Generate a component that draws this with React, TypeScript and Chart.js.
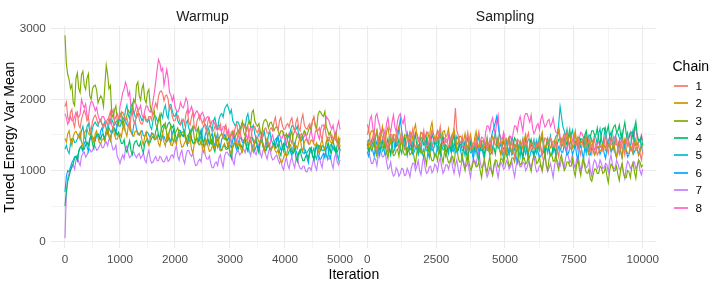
import React, { useEffect, useRef } from "react";
import { Chart, registerables } from "chart.js";

Chart.register(...registerables);

// ---------- data ----------
const chainLabels = ["1", "2", "3", "4", "5", "6", "7", "8"];
const chainColors = ["#F8766D", "#CD9600", "#7CAE00", "#00BE67", "#00BFC4", "#00A9FF", "#C77CFF", "#FF61CC"];

const warmupStep = 25; // iterations between stored points (0..5000)
const samplingStep = 50; // iterations between stored points (0..10000)

const yTickLabels = [0, 1000, 2000, 3000];
const yGridValues = [0, 500, 1000, 1500, 2000, 2500, 3000];
const warmupTickLabels = [0, 1000, 2000, 3000, 4000, 5000];
const warmupGridValues = [0, 500, 1000, 1500, 2000, 2500, 3000, 3500, 4000, 4500, 5000];
const samplingTickLabels = [0, 2500, 5000, 7500, 10000];
const samplingGridValues = [0, 1250, 2500, 3750, 5000, 6250, 7500, 8750, 10000];

// Warmup phase
const warmup1 = [
  1900, 1960, 1750, 1700, 1820, 1860, 1680, 1610, 1760, 1815, 1640, 1600, 1720, 1790, 1850, 1795, 1700, 1745, 1620, 1560,
  1690, 1750, 1780, 1730, 1650, 1690, 1720, 1650, 1600, 1655, 1680, 1640, 1760, 1830, 1640, 1585, 1710, 1755, 1800, 1740,
  1740, 1800, 1820, 1770, 1700, 1740, 1650, 1580, 1760, 1815, 1690, 1650, 1800, 1870, 1720, 1665, 1650, 1695, 1780, 1720,
  1700, 1760, 1760, 1710, 1850, 1890, 1950, 1880, 2050, 2105, 2120, 2080, 1980, 2050, 2060, 2005, 1850, 1895, 1760, 1700,
  1700, 1760, 1780, 1730, 1650, 1690, 1720, 1650, 1800, 1855, 1680, 1640, 1750, 1820, 1620, 1565, 1700, 1745, 1780, 1720,
  1660, 1720, 1600, 1550, 1700, 1740, 1620, 1550, 1560, 1615, 1650, 1610, 1580, 1650, 1520, 1465, 1600, 1645, 1540, 1480,
  1480, 1540, 1560, 1510, 1620, 1660, 1500, 1430, 1580, 1635, 1640, 1600, 1550, 1620, 1480, 1425, 1560, 1605, 1620, 1560,
  1530, 1590, 1460, 1410, 1540, 1580, 1600, 1530, 1520, 1575, 1600, 1560, 1680, 1750, 1620, 1565, 1700, 1745, 1640, 1580,
  1580, 1640, 1660, 1610, 1700, 1740, 1620, 1550, 1680, 1735, 1600, 1560, 1720, 1790, 1650, 1595, 1580, 1625, 1660, 1600,
  1700, 1760, 1620, 1570, 1560, 1600, 1500, 1430, 1580, 1635, 1480, 1440, 1420, 1490, 1500, 1445, 1450, 1495, 1380, 1320,
  1420,
];
const warmup2 = [
  1450, 1400, 1520, 1560, 1420, 1350, 1480, 1535, 1550, 1510, 1470, 1540, 1400, 1345, 1520, 1565, 1580, 1520, 1500, 1560,
  1440, 1390, 1520, 1560, 1460, 1390, 1380, 1435, 1450, 1410, 1530, 1600, 1480, 1425, 1560, 1605, 1500, 1440, 1440, 1500,
  1520, 1470, 1600, 1640, 1550, 1480, 1620, 1675, 1540, 1500, 1480, 1550, 1560, 1505, 1500, 1545, 1420, 1360, 1480, 1540,
  1400, 1350, 1460, 1500, 1520, 1450, 1440, 1495, 1380, 1340, 1460, 1530, 1400, 1345, 1480, 1525, 1420, 1360, 1350, 1410,
  1420, 1370, 1480, 1520, 1400, 1330, 1340, 1395, 1420, 1380, 1380, 1450, 1300, 1245, 1370, 1415, 1440, 1380, 1360, 1420,
  1300, 1250, 1380, 1420, 1340, 1270, 1280, 1335, 1360, 1320, 1420, 1490, 1340, 1285, 1300, 1345, 1380, 1320, 1330, 1390,
  1280, 1230, 1350, 1390, 1420, 1350, 1360, 1415, 1300, 1260, 1380, 1450, 1440, 1385, 1380, 1425, 1320, 1260, 1400, 1460,
  1460, 1410, 1380, 1420, 1340, 1270, 1400, 1455, 1350, 1310, 1280, 1350, 1330, 1275, 1250, 1295, 1180, 1120, 1120, 1180,
  1250, 1200, 1300, 1340, 1360, 1290, 1290, 1345, 1350, 1310, 1400, 1470, 1330, 1275, 1390, 1435, 1440, 1380, 1370, 1430,
  1420, 1370, 1350, 1390, 1300, 1230, 1380, 1435, 1340, 1300, 1400, 1470, 1460, 1405, 1380, 1425, 1480, 1420, 1400, 1460,
  1330,
];
const warmup3 = [
  2900, 2500, 2350, 2280, 2150, 2205, 1950, 1910, 2300, 2370, 2150, 2095, 2350, 2395, 2200, 2140, 2300, 2360, 2050, 2000,
  2150, 2190, 2200, 2130, 1950, 2005, 2050, 2010, 1900, 2200, 2480, 2350, 2150, 2195, 1800, 1740, 1850, 1910, 1700, 1650,
  1780, 1820, 1650, 1580, 1720, 1775, 1850, 1810, 1800, 1870, 2000, 1945, 2200, 2245, 2050, 1990, 2150, 2210, 2000, 1950,
  2100, 2140, 1900, 1830, 1780, 1835, 1650, 1610, 1720, 1790, 1580, 1525, 1620, 1665, 1500, 1440, 1560, 1620, 1450, 1400,
  1520, 1560, 1600, 1530, 1480, 1535, 1550, 1510, 1420, 1490, 1500, 1445, 1580, 1625, 1460, 1400, 1540, 1600, 1420, 1370,
  1360, 1400, 1450, 1380, 1500, 1555, 1400, 1360, 1460, 1530, 1380, 1325, 1450, 1495, 1520, 1460, 1440, 1500, 1380, 1330,
  1460, 1500, 1540, 1470, 1480, 1535, 1560, 1520, 1620, 1690, 1540, 1485, 1600, 1645, 1700, 1640, 1820, 1850, 1700, 1650,
  1620, 1660, 1560, 1490, 1650, 1705, 1720, 1680, 1600, 1670, 1680, 1625, 1560, 1605, 1620, 1560, 1500, 1560, 1560, 1510,
  1480, 1520, 1420, 1350, 1500, 1555, 1380, 1340, 1440, 1510, 1520, 1465, 1460, 1505, 1560, 1500, 1500, 1560, 1620, 1570,
  1700, 1740, 1650, 1580, 1780, 1835, 1820, 1780, 1760, 1830, 1620, 1565, 1500, 1545, 1440, 1380, 1480, 1540, 1400, 1350,
  1460,
];
const warmup4 = [
  500, 700, 850, 920, 1000, 1060, 1100, 1170, 1200, 1145, 1280, 1325, 1350, 1290, 1300, 1360, 1400, 1350, 1450, 1490,
  1380, 1310, 1460, 1515, 1520, 1480, 1440, 1510, 1500, 1445, 1560, 1605, 1480, 1420, 1540, 1600, 1600, 1550, 1500, 1540,
  1450, 1380, 1380, 1435, 1300, 1260, 1350, 1420, 1280, 1225, 1360, 1405, 1420, 1360, 1340, 1400, 1300, 1250, 1380, 1420,
  1450, 1380, 1400, 1455, 1480, 1440, 1550, 1620, 1500, 1445, 1580, 1625, 1650, 1590, 1600, 1660, 1680, 1630, 1600, 1640,
  1520, 1450, 1460, 1515, 1540, 1500, 1480, 1550, 1420, 1365, 1500, 1545, 1450, 1390, 1380, 1440, 1440, 1390, 1500, 1540,
  1420, 1350, 1360, 1415, 1440, 1400, 1380, 1450, 1320, 1265, 1400, 1445, 1340, 1280, 1280, 1340, 1350, 1300, 1300, 1340,
  1240, 1170, 1320, 1375, 1380, 1340, 1300, 1370, 1360, 1305, 1420, 1465, 1340, 1280, 1400, 1460, 1460, 1410, 1380, 1420,
  1320, 1250, 1400, 1455, 1340, 1300, 1280, 1350, 1360, 1305, 1300, 1345, 1380, 1320, 1320, 1380, 1260, 1210, 1340, 1380,
  1280, 1210, 1220, 1275, 1300, 1260, 1240, 1310, 1180, 1125, 1250, 1295, 1200, 1140, 1140, 1200, 1220, 1170, 1280, 1320,
  1220, 1150, 1300, 1355, 1360, 1320, 1280, 1350, 1340, 1285, 1400, 1445, 1320, 1260, 1380, 1440, 1300, 1250, 1360, 1400,
  1280,
];
const warmup5 = [
  1300, 1355, 1280, 1240, 1380, 1450, 1450, 1395, 1400, 1445, 1500, 1440, 1560, 1620, 1480, 1430, 1620, 1660, 1550, 1480,
  1600, 1655, 1680, 1640, 1620, 1690, 1700, 1645, 1640, 1685, 1580, 1520, 1660, 1720, 1720, 1670, 1640, 1680, 1700, 1630,
  1620, 1675, 1750, 1710, 1850, 1920, 1780, 1725, 1900, 1945, 1820, 1760, 1740, 1800, 1800, 1750, 1700, 1740, 1760, 1690,
  1680, 1735, 1620, 1580, 1700, 1770, 1760, 1705, 1680, 1725, 1800, 1740, 1860, 1920, 1780, 1730, 1920, 1930, 1840, 1770,
  1760, 1815, 1700, 1660, 1640, 1710, 1580, 1525, 1660, 1705, 1600, 1540, 1540, 1600, 1620, 1570, 1560, 1600, 1500, 1430,
  1580, 1635, 1650, 1610, 1560, 1630, 1620, 1565, 1700, 1745, 1640, 1580, 1720, 1780, 1800, 1750, 1860, 1900, 1930, 1870,
  1800, 1855, 1700, 1660, 1620, 1690, 1680, 1625, 1600, 1645, 1660, 1600, 1740, 1800, 1680, 1630, 1600, 1640, 1520, 1450,
  1460, 1515, 1540, 1500, 1480, 1550, 1420, 1365, 1500, 1545, 1440, 1380, 1380, 1440, 1460, 1410, 1400, 1440, 1340, 1270,
  1420, 1475, 1500, 1460, 1560, 1630, 1620, 1565, 1580, 1625, 1500, 1440, 1420, 1480, 1300, 1250, 1250, 1290, 1320, 1250,
  1260, 1315, 1200, 1160, 1280, 1350, 1340, 1285, 1280, 1325, 1220, 1160, 1300, 1360, 1360, 1310, 1280, 1320, 1220, 1150,
  1300,
];
const warmup6 = [
  700, 920, 1000, 980, 1050, 1110, 1150, 1195, 1200, 1140, 1260, 1320, 1320, 1270, 1380, 1420, 1340, 1270, 1420, 1475,
  1480, 1440, 1420, 1490, 1500, 1445, 1560, 1605, 1480, 1420, 1540, 1600, 1600, 1550, 1520, 1560, 1580, 1510, 1660, 1715,
  1720, 1680, 1640, 1710, 1700, 1645, 1620, 1665, 1560, 1500, 1640, 1700, 1580, 1530, 1500, 1540, 1560, 1490, 1480, 1535,
  1540, 1500, 1460, 1530, 1520, 1465, 1440, 1485, 1500, 1440, 1420, 1480, 1480, 1430, 1400, 1440, 1460, 1390, 1520, 1575,
  1440, 1400, 1500, 1570, 1560, 1505, 1480, 1525, 1420, 1360, 1500, 1560, 1440, 1390, 1380, 1420, 1460, 1390, 1520, 1575,
  1440, 1400, 1500, 1570, 1420, 1365, 1480, 1525, 1400, 1340, 1460, 1520, 1380, 1330, 1440, 1480, 1500, 1430, 1420, 1475,
  1360, 1320, 1420, 1490, 1340, 1285, 1400, 1445, 1460, 1400, 1380, 1440, 1320, 1270, 1400, 1440, 1340, 1270, 1280, 1335,
  1350, 1310, 1420, 1490, 1340, 1285, 1280, 1325, 1360, 1300, 1300, 1360, 1380, 1330, 1440, 1480, 1360, 1290, 1300, 1355,
  1380, 1340, 1320, 1390, 1260, 1205, 1340, 1385, 1280, 1220, 1220, 1280, 1300, 1250, 1240, 1280, 1180, 1110, 1260, 1315,
  1200, 1160, 1280, 1350, 1220, 1165, 1160, 1205, 1240, 1180, 1300, 1360, 1220, 1170, 1280, 1320, 1340, 1270, 1260, 1315,
  1320,
];
const warmup7 = [
  50, 700, 900, 960, 1000, 1040, 1080, 1020, 1150, 1210, 1120, 1070, 1200, 1240, 1260, 1190, 1220, 1275, 1300, 1260,
  1280, 1350, 1340, 1285, 1300, 1345, 1380, 1320, 1320, 1380, 1400, 1350, 1440, 1480, 1360, 1290, 1300, 1355, 1200, 1160,
  1100, 1170, 1220, 1165, 1300, 1345, 1240, 1180, 1200, 1260, 1260, 1210, 1180, 1220, 1240, 1170, 1200, 1255, 1150, 1110,
  1220, 1290, 1160, 1105, 1120, 1165, 1200, 1140, 1140, 1200, 1180, 1130, 1120, 1160, 1200, 1130, 1150, 1205, 1220, 1180,
  1280, 1350, 1200, 1145, 1240, 1285, 1160, 1100, 1220, 1280, 1280, 1230, 1200, 1240, 1140, 1070, 1080, 1135, 1160, 1120,
  1300, 1370, 1220, 1165, 1160, 1205, 1100, 1040, 1040, 1100, 1120, 1070, 1180, 1220, 1120, 1050, 1200, 1255, 1260, 1220,
  1200, 1270, 1140, 1085, 1220, 1265, 1280, 1220, 1240, 1300, 1300, 1250, 1340, 1380, 1280, 1210, 1320, 1375, 1260, 1220,
  1300, 1370, 1240, 1185, 1280, 1325, 1220, 1160, 1260, 1320, 1200, 1150, 1160, 1200, 1220, 1150, 1100, 1155, 1050, 1010,
  1120, 1190, 1080, 1025, 1140, 1185, 1100, 1040, 1160, 1220, 1080, 1030, 1020, 1060, 1060, 990, 980, 1035, 1040, 1000,
  1100, 1170, 1060, 1005, 1140, 1185, 1100, 1040, 1180, 1240, 1220, 1170, 1160, 1200, 1100, 1030, 1180, 1235, 1120, 1080,
  1150,
];
const warmup8 = [
  1800, 1745, 1650, 1695, 1760, 1700, 1700, 1760, 1820, 1770, 1750, 1790, 2000, 1930, 1880, 1935, 1780, 1740, 1900, 1970,
  1960, 1905, 1840, 1885, 1780, 1720, 1700, 1760, 1760, 1710, 1680, 1720, 1740, 1670, 1800, 1855, 1700, 1660, 1620, 1690,
  1900, 1990, 2100, 2145, 2240, 2180, 2050, 2110, 1880, 1830, 1800, 1840, 1920, 1850, 1860, 1915, 1780, 1740, 1840, 1910,
  1900, 1845, 1820, 1865, 1980, 2100, 2250, 2420, 2560, 2510, 2400, 2440, 2200, 2310, 2420, 2300, 2100, 2060, 1980, 2050,
  1900, 1845, 1820, 1865, 1960, 1900, 1880, 1940, 2020, 1970, 1800, 1840, 1900, 1830, 1760, 1815, 1840, 1800, 1720, 1790,
  1820, 1765, 1700, 1745, 1760, 1700, 1640, 1700, 1700, 1650, 1580, 1620, 1640, 1570, 1560, 1615, 1620, 1580, 1500, 1570,
  1440, 1385, 1520, 1565, 1460, 1400, 1540, 1600, 1480, 1430, 1420, 1460, 1500, 1430, 1560, 1615, 1480, 1440, 1400, 1470,
  1360, 1305, 1420, 1465, 1380, 1320, 1340, 1400, 1400, 1350, 1460, 1500, 1400, 1330, 1440, 1495, 1500, 1460, 1460, 1530,
  1420, 1365, 1480, 1525, 1440, 1380, 1500, 1560, 1540, 1490, 1460, 1500, 1520, 1450, 1480, 1535, 1420, 1380, 1500, 1570,
  1460, 1405, 1540, 1585, 1500, 1440, 1580, 1640, 1640, 1590, 1760, 1730, 1700, 1630, 1580, 1635, 1520, 1480, 1620, 1690,
  1580,
];

// Sampling phase
const sampling1 = [
  1500, 1590, 1420, 1350, 1480, 1540, 1380, 1280, 1450, 1530, 1520, 1460, 1400, 1500, 1360, 1280, 1440, 1510, 1500, 1410,
  1420, 1510, 1380, 1310, 1460, 1520, 1400, 1300, 1340, 1420, 1420, 1360, 1480, 1580, 1400, 1320, 1350, 1420, 1430, 1340,
  1480, 1570, 1400, 1330, 1360, 1420, 1440, 1340, 1380, 1460, 1460, 1400, 1520, 1620, 1440, 1360, 1380, 1450, 1420, 1330,
  1360, 1450, 1450, 1600, 1880, 1560, 1500, 1400, 1400, 1480, 1360, 1300, 1440, 1540, 1380, 1300, 1320, 1390, 1400, 1310,
  1460, 1550, 1380, 1310, 1320, 1380, 1400, 1300, 1360, 1440, 1300, 1240, 1380, 1480, 1440, 1360, 1360, 1430, 1300, 1210,
  1360, 1450, 1420, 1350, 1340, 1400, 1280, 1180, 1360, 1440, 1420, 1360, 1340, 1440, 1400, 1320, 1460, 1530, 1380, 1290,
  1320, 1410, 1400, 1330, 1360, 1420, 1300, 1200, 1380, 1460, 1440, 1380, 1360, 1460, 1420, 1340, 1340, 1410, 1280, 1190,
  1360, 1450, 1420, 1350, 1480, 1540, 1400, 1300, 1340, 1420, 1420, 1360, 1360, 1460, 1300, 1220, 1380, 1450, 1440, 1350,
  1360, 1450, 1300, 1230, 1380, 1440, 1320, 1220, 1260, 1340, 1340, 1280, 1400, 1500, 1320, 1240, 1380, 1450, 1440, 1350,
  1360, 1450, 1300, 1230, 1380, 1440, 1320, 1220, 1400, 1480, 1340, 1280, 1280, 1380, 1360, 1280, 1300, 1370, 1240, 1150,
  1280,
];
const sampling2 = [
  1420, 1350, 1500, 1560, 1560, 1460, 1480, 1560, 1420, 1360, 1520, 1620, 1460, 1380, 1540, 1610, 1480, 1390, 1420, 1510,
  1500, 1430, 1560, 1620, 1480, 1380, 1420, 1500, 1500, 1440, 1440, 1540, 1520, 1440, 1580, 1650, 1500, 1410, 1440, 1530,
  1520, 1450, 1460, 1520, 1540, 1440, 1600, 1680, 1520, 1460, 1460, 1560, 1540, 1460, 1480, 1550, 1560, 1470, 1500, 1590,
  1440, 1370, 1520, 1580, 1460, 1360, 1400, 1480, 1480, 1420, 1420, 1520, 1360, 1280, 1440, 1510, 1380, 1290, 1460, 1550,
  1400, 1330, 1340, 1400, 1420, 1320, 1360, 1440, 1300, 1240, 1380, 1480, 1440, 1360, 1360, 1430, 1300, 1210, 1380, 1470,
  1320, 1250, 1400, 1460, 1340, 1240, 1280, 1360, 1360, 1300, 1300, 1400, 1380, 1300, 1440, 1510, 1360, 1270, 1300, 1390,
  1380, 1310, 1320, 1380, 1400, 1300, 1460, 1540, 1380, 1320, 1320, 1420, 1400, 1320, 1340, 1410, 1420, 1330, 1480, 1570,
  1400, 1330, 1460, 1520, 1520, 1420, 1440, 1520, 1380, 1320, 1460, 1560, 1400, 1320, 1340, 1410, 1420, 1330, 1360, 1450,
  1300, 1230, 1380, 1440, 1320, 1220, 1260, 1340, 1340, 1280, 1280, 1380, 1360, 1280, 1300, 1370, 1380, 1290, 1320, 1410,
  1260, 1190, 1340, 1400, 1280, 1180, 1360, 1440, 1300, 1240, 1240, 1340, 1320, 1240, 1380, 1450, 1300, 1210, 1260, 1350,
  1320,
];
const sampling3 = [
  1300, 1360, 1380, 1280, 1320, 1400, 1260, 1200, 1340, 1440, 1400, 1320, 1320, 1390, 1260, 1170, 1340, 1430, 1280, 1210,
  1220, 1280, 1300, 1200, 1360, 1440, 1280, 1220, 1220, 1320, 1300, 1220, 1240, 1310, 1180, 1090, 1260, 1350, 1320, 1250,
  1240, 1300, 1180, 1080, 1260, 1340, 1200, 1140, 1140, 1240, 1220, 1140, 1280, 1350, 1200, 1110, 1260, 1350, 1180, 1110,
  1120, 1180, 1200, 1100, 1260, 1340, 1180, 1120, 1120, 1220, 1080, 1000, 1160, 1230, 1100, 1010, 1040, 1130, 1120, 1050,
  1060, 1120, 1000, 900, 1080, 1160, 1040, 980, 1100, 1200, 1020, 940, 1080, 1150, 1140, 1050, 1080, 1170, 1160, 1090,
  1220, 1280, 1160, 1060, 1100, 1180, 1180, 1120, 1240, 1340, 1160, 1080, 1100, 1170, 1180, 1090, 1120, 1210, 1060, 990,
  1140, 1200, 1200, 1100, 1120, 1200, 1060, 1000, 1140, 1240, 1080, 1000, 1160, 1230, 1220, 1130, 1140, 1230, 1080, 1010,
  1160, 1220, 1100, 1000, 1040, 1120, 1120, 1060, 1060, 1160, 1000, 920, 1080, 1150, 1020, 930, 1100, 1190, 1040, 970,
  960, 1020, 880, 850, 940, 1020, 1020, 960, 960, 1060, 1040, 960, 980, 1050, 920, 830, 1000, 1090, 1060, 990,
  1000, 1060, 940, 860, 1020, 1100, 960, 900, 900, 1000, 980, 900, 1040, 1110, 980, 890, 1060, 1150, 1120, 1050,
  1080,
];
const sampling4 = [
  1380, 1280, 1320, 1400, 1400, 1340, 1460, 1560, 1380, 1300, 1320, 1390, 1400, 1310, 1360, 1450, 1300, 1230, 1380, 1440,
  1440, 1340, 1360, 1440, 1300, 1240, 1380, 1480, 1340, 1260, 1280, 1350, 1360, 1270, 1420, 1510, 1340, 1270, 1400, 1460,
  1460, 1360, 1380, 1460, 1320, 1260, 1400, 1500, 1460, 1380, 1380, 1450, 1320, 1230, 1400, 1490, 1340, 1270, 1280, 1340,
  1360, 1260, 1420, 1500, 1340, 1280, 1280, 1380, 1360, 1280, 1300, 1370, 1240, 1150, 1320, 1410, 1380, 1310, 1300, 1360,
  1240, 1140, 1320, 1400, 1280, 1220, 1360, 1460, 1300, 1220, 1240, 1310, 1320, 1230, 1380, 1470, 1300, 1230, 1260, 1320,
  1320, 1220, 1380, 1460, 1300, 1240, 1360, 1460, 1420, 1340, 1340, 1410, 1280, 1190, 1360, 1450, 1300, 1230, 1380, 1440,
  1320, 1220, 1260, 1340, 1340, 1280, 1400, 1500, 1320, 1240, 1380, 1450, 1300, 1210, 1240, 1330, 1320, 1250, 1380, 1440,
  1440, 1340, 1360, 1440, 1420, 1360, 1480, 1580, 1400, 1320, 1340, 1410, 1420, 1330, 1360, 1450, 1440, 1370, 1500, 1560,
  1420, 1320, 1480, 1560, 1560, 1500, 1500, 1600, 1440, 1360, 1520, 1590, 1600, 1510, 1540, 1630, 1480, 1410, 1560, 1620,
  1640, 1540, 1560, 1640, 1500, 1440, 1580, 1680, 1520, 1440, 1460, 1530, 1540, 1450, 1600, 1690, 1500, 1430, 1420, 1480,
  1350,
];
const sampling5 = [
  1350, 1430, 1420, 1360, 1380, 1480, 1320, 1240, 1400, 1470, 1360, 1270, 1300, 1390, 1380, 1310, 1440, 1500, 1360, 1260,
  1300, 1380, 1380, 1320, 1340, 1440, 1400, 1320, 1460, 1530, 1380, 1290, 1320, 1410, 1380, 1310, 1300, 1360, 1360, 1260,
  1420, 1500, 1340, 1280, 1280, 1380, 1360, 1280, 1300, 1370, 1380, 1290, 1440, 1530, 1360, 1290, 1300, 1360, 1340, 1240,
  1400, 1480, 1320, 1260, 1380, 1480, 1440, 1360, 1360, 1430, 1300, 1210, 1380, 1470, 1320, 1250, 1260, 1320, 1340, 1240,
  1400, 1480, 1340, 1280, 1280, 1380, 1360, 1280, 1300, 1370, 1380, 1290, 1440, 1530, 1380, 1310, 1320, 1380, 1260, 1160,
  1340, 1420, 1280, 1220, 1360, 1460, 1420, 1340, 1340, 1410, 1280, 1190, 1360, 1450, 1300, 1230, 1380, 1440, 1440, 1340,
  1360, 1440, 1300, 1240, 1380, 1480, 1320, 1240, 1260, 1330, 1340, 1250, 1400, 1490, 1340, 1270, 1420, 1480, 1500, 1650,
  1900, 1760, 1620, 1560, 1480, 1580, 1420, 1340, 1500, 1570, 1440, 1350, 1380, 1470, 1460, 1390, 1400, 1460, 1340, 1240,
  1420, 1500, 1480, 1420, 1400, 1500, 1460, 1380, 1520, 1590, 1440, 1350, 1500, 1590, 1420, 1350, 1480, 1540, 1400, 1300,
  1460, 1540, 1520, 1460, 1440, 1540, 1380, 1300, 1460, 1530, 1400, 1310, 1480, 1570, 1420, 1350, 1360, 1420, 1440, 1340,
  1380,
];
const sampling6 = [
  1260, 1200, 1320, 1420, 1280, 1200, 1340, 1410, 1300, 1210, 1360, 1450, 1300, 1230, 1240, 1300, 1320, 1220, 1380, 1460,
  1320, 1400, 1460, 1600, 1720, 1560, 1400, 1470, 1300, 1210, 1360, 1450, 1300, 1230, 1260, 1320, 1320, 1220, 1280, 1360,
  1240, 1180, 1300, 1400, 1260, 1180, 1320, 1390, 1280, 1190, 1240, 1330, 1300, 1230, 1360, 1420, 1300, 1200, 1260, 1340,
  1320, 1260, 1280, 1380, 1340, 1260, 1300, 1370, 1260, 1170, 1320, 1410, 1380, 1310, 1320, 1380, 1260, 1160, 1300, 1380,
  1340, 1280, 1280, 1380, 1240, 1160, 1320, 1390, 1380, 1290, 1460, 1550, 1600, 1680, 1760, 1640, 1500, 1400, 1340, 1420,
  1280, 1220, 1220, 1320, 1300, 1220, 1260, 1330, 1200, 1110, 1280, 1370, 1240, 1170, 1300, 1360, 1260, 1160, 1200, 1280,
  1260, 1200, 1320, 1420, 1260, 1180, 1200, 1270, 1280, 1190, 1340, 1430, 1280, 1210, 1220, 1280, 1300, 1200, 1260, 1340,
  1320, 1260, 1260, 1360, 1300, 1220, 1240, 1310, 1320, 1230, 1280, 1370, 1220, 1150, 1300, 1360, 1260, 1160, 1340, 1420,
  1280, 1220, 1220, 1320, 1300, 1220, 1260, 1330, 1320, 1230, 1280, 1370, 1240, 1170, 1300, 1360, 1360, 1260, 1300, 1380,
  1240, 1180, 1300, 1400, 1260, 1180, 1320, 1390, 1280, 1190, 1220, 1310, 1300, 1230, 1260, 1320, 1320, 1220, 1280, 1360,
  1240,
];
const sampling7 = [
  1250, 1300, 1180, 1100, 1100, 1170, 1160, 1070, 1220, 1310, 1260, 1190, 1200, 1260, 1120, 1020, 1040, 1120, 980, 920,
  940, 1040, 1000, 920, 960, 1030, 1020, 930, 940, 1030, 980, 910, 1040, 1100, 1100, 1000, 1060, 1140, 1000, 940,
  1100, 1200, 1040, 960, 980, 1050, 1060, 970, 1000, 1090, 1060, 990, 1120, 1180, 1060, 960, 1000, 1080, 1080, 1020,
  1100, 1200, 1040, 960, 1080, 1150, 1020, 930, 1060, 1150, 1120, 1050, 1060, 1120, 1000, 900, 1080, 1160, 1140, 1080,
  1200, 1260, 1120, 1040, 1060, 1130, 1000, 910, 960, 1050, 1000, 930, 1060, 1120, 1000, 900, 1040, 1120, 1080, 1020,
  1040, 1140, 1100, 1020, 1060, 1130, 1000, 910, 1060, 1150, 1120, 1050, 1060, 1120, 1100, 1000, 1040, 1120, 1100, 1040,
  1120, 1220, 1060, 980, 1000, 1070, 1080, 990, 1140, 1230, 1060, 990, 1040, 1100, 1000, 900, 1080, 1160, 1140, 1080,
  1060, 1160, 1120, 1040, 1180, 1250, 1200, 1110, 1140, 1230, 1100, 1030, 1160, 1220, 1100, 1000, 1040, 1120, 1100, 1040,
  1060, 1160, 1000, 920, 1080, 1150, 1120, 1030, 1060, 1150, 1100, 1030, 1040, 1100, 1080, 980, 1140, 1220, 1080, 1020,
  1040, 1140, 1100, 1020, 1020, 1090, 980, 890, 1040, 1130, 1100, 1030, 1060, 1120, 1120, 1020, 1060, 1140, 1000, 940,
  1020,
];
const sampling8 = [
  1650, 1570, 1720, 1770, 1600, 1510, 1760, 1800, 1700, 1630, 1500, 1560, 1580, 1480, 1660, 1740, 1600, 1540, 1680, 1780,
  1620, 1540, 1700, 1770, 1800, 1710, 1660, 1750, 1560, 1490, 1480, 1540, 1400, 1300, 1460, 1540, 1520, 1460, 1440, 1540,
  1520, 1440, 1460, 1530, 1400, 1310, 1480, 1570, 1420, 1350, 1500, 1560, 1440, 1340, 1380, 1460, 1460, 1400, 1400, 1500,
  1360, 1280, 1440, 1510, 1380, 1290, 1320, 1410, 1400, 1330, 1340, 1400, 1280, 1180, 1360, 1440, 1300, 1240, 1380, 1480,
  1340, 1260, 1400, 1470, 1460, 1370, 1540, 1630, 1620, 1550, 1680, 1740, 1600, 1500, 1700, 1780, 1520, 1460, 1440, 1540,
  1460, 1380, 1400, 1470, 1480, 1390, 1540, 1630, 1620, 1550, 1700, 1760, 1650, 1550, 1750, 1800, 1800, 1740, 1680, 1780,
  1600, 1520, 1560, 1630, 1660, 1570, 1720, 1780, 1680, 1610, 1640, 1700, 1720, 1620, 1660, 1740, 1600, 1540, 1520, 1620,
  1480, 1400, 1420, 1490, 1360, 1270, 1440, 1530, 1500, 1430, 1440, 1500, 1380, 1280, 1460, 1540, 1520, 1460, 1420, 1520,
  1360, 1280, 1300, 1370, 1380, 1290, 1320, 1410, 1400, 1330, 1340, 1400, 1420, 1320, 1360, 1440, 1420, 1360, 1380, 1480,
  1440, 1360, 1360, 1430, 1400, 1310, 1340, 1430, 1420, 1350, 1480, 1540, 1400, 1300, 1540, 1620, 1460, 1400, 1400, 1500,
  1420,
];

const warmupSeries = [warmup1, warmup2, warmup3, warmup4, warmup5, warmup6, warmup7, warmup8];
const samplingSeries = [sampling1, sampling2, sampling3, sampling4, sampling5, sampling6, sampling7, sampling8];

// ---------- layout / style ----------
const W = 718;
const H = 285;
const FONT = "'Liberation Sans', Arial, Helvetica, sans-serif";
const TICK_COLOR = "#4D4D4D";
const GRID_COLOR = "#EBEBEB";
const PANEL_TOP = 26;
const PANEL_BOTTOM = 248.3;
const LEFT_PANEL = { left: 51.25, right: 353.75 };
const RIGHT_PANEL = { left: 353.5, right: 656.5 };
const Y_MIN = -93;
const Y_MAX = 3032;

function toPoints(values: number[], step: number) {
  return values.map((v, i) => ({ x: i * step, y: v }));
}

function makeConfig(
  series: number[][],
  step: number,
  xMin: number,
  xMax: number,
  gridVals: number[],
  labelVals: number[],
  panel: { left: number; right: number },
  showY: boolean
): any {
  return {
    type: "line",
    data: {
      datasets: series.map((vals, k) => ({
        label: chainLabels[k],
        data: toPoints(vals, step),
        borderColor: chainColors[k],
        backgroundColor: chainColors[k],
        borderWidth: 1.15,
        pointRadius: 0,
        pointHoverRadius: 0,
        fill: false,
        tension: 0,
      })),
    },
    options: {
      animation: false,
      responsive: false,
      maintainAspectRatio: false,
      devicePixelRatio: 1,
      events: [],
      layout: {
        padding: {
          left: showY ? 0 : panel.left,
          right: W - panel.right,
          top: PANEL_TOP,
          bottom: 0,
        },
      },
      plugins: {
        legend: { display: false },
        tooltip: { enabled: false },
        title: { display: false },
      },
      scales: {
        x: {
          type: "linear",
          min: xMin,
          max: xMax,
          afterBuildTicks: (s: any) => {
            s.ticks = gridVals.map((v) => ({ value: v }));
          },
          afterFit: (s: any) => {
            s.height = H - PANEL_BOTTOM;
          },
          ticks: {
            autoSkip: false,
            maxRotation: 0,
            padding: 4,
            color: TICK_COLOR,
            font: { family: FONT, size: 11.7 },
            callback: (v: any) => (labelVals.includes(Number(v)) ? String(v) : ""),
          },
          grid: {
            color: GRID_COLOR,
            drawTicks: false,
            lineWidth: (ctx: any) =>
              ctx.tick && labelVals.includes(ctx.tick.value) ? 1.1 : 0.55,
          },
          border: { display: false },
        },
        y: {
          type: "linear",
          min: Y_MIN,
          max: Y_MAX,
          afterBuildTicks: (s: any) => {
            s.ticks = yGridValues.map((v) => ({ value: v }));
          },
          afterFit: (s: any) => {
            s.width = showY ? LEFT_PANEL.left : 0;
          },
          ticks: {
            display: showY,
            padding: 5.5,
            color: TICK_COLOR,
            font: { family: FONT, size: 11.7 },
            callback: (v: any) => (yTickLabels.includes(Number(v)) ? String(v) : ""),
          },
          title: {
            display: showY,
            text: "Tuned Energy Var Mean",
            color: "#000000",
            font: { family: FONT, size: 14 },
            padding: { top: 1.5, bottom: 0 },
          },
          grid: {
            color: GRID_COLOR,
            drawTicks: false,
            lineWidth: (ctx: any) =>
              ctx.tick && yTickLabels.includes(ctx.tick.value) ? 1.1 : 0.55,
          },
          border: { display: false },
        },
      },
    },
  };
}

const textBase: React.CSSProperties = {
  position: "absolute",
  fontFamily: FONT,
  whiteSpace: "nowrap",
  lineHeight: "14px",
  fontSize: 14,
  color: "#1A1A1A",
};

export default function App() {
  const leftRef = useRef<HTMLCanvasElement | null>(null);
  const rightRef = useRef<HTMLCanvasElement | null>(null);

  useEffect(() => {
    const left = new Chart(
      leftRef.current as HTMLCanvasElement,
      makeConfig(warmupSeries, warmupStep, -250, 5250, warmupGridValues, warmupTickLabels, LEFT_PANEL, true)
    );
    const right = new Chart(
      rightRef.current as HTMLCanvasElement,
      makeConfig(samplingSeries, samplingStep, -500, 10500, samplingGridValues, samplingTickLabels, RIGHT_PANEL, false)
    );
    return () => {
      left.destroy();
      right.destroy();
    };
  }, []);

  const panelCenter = (p: { left: number; right: number }) => (p.left + p.right) / 2;

  return (
    <div style={{ position: "absolute", left: 0, top: 0, width: W, height: H, background: "#FFFFFF", overflow: "hidden" }}>
      <canvas ref={leftRef} width={W} height={H} style={{ position: "absolute", left: 0, top: 0, width: W, height: H }} />
      <canvas ref={rightRef} width={W} height={H} style={{ position: "absolute", left: 0, top: 0, width: W, height: H }} />

      <div style={{ ...textBase, left: panelCenter(LEFT_PANEL), top: 8.6, transform: "translateX(-50%)" }}>Warmup</div>
      <div style={{ ...textBase, left: panelCenter(RIGHT_PANEL), top: 8.6, transform: "translateX(-50%)" }}>Sampling</div>
      <div style={{ ...textBase, color: "#000", left: (LEFT_PANEL.left + RIGHT_PANEL.right) / 2, top: 266.5, transform: "translateX(-50%)" }}>Iteration</div>

      <div style={{ ...textBase, color: "#000", left: 672.5, top: 58.9 }}>Chain</div>
      {chainLabels.map((lab, k) => {
        const cy = Math.round(85.7 + k * 17.43);
        return (
          <React.Fragment key={lab}>
            <div style={{ position: "absolute", left: 674, top: cy - 1, width: 14, height: 2, background: chainColors[k], opacity: 0.85 }} />
            <div style={{ ...textBase, color: "#000", fontSize: 11.7, lineHeight: "12px", left: 695.5, top: cy - 6 }}>{lab}</div>
          </React.Fragment>
        );
      })}
    </div>
  );
}
